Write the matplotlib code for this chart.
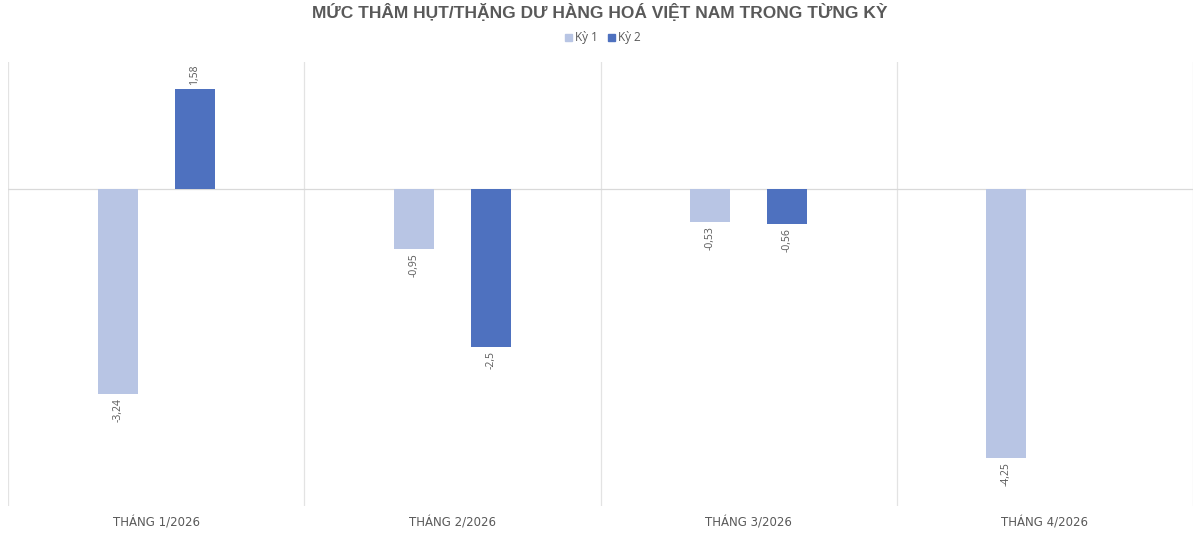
import matplotlib
matplotlib.use("Agg")
import matplotlib.pyplot as plt
import numpy as np
from matplotlib.patches import Patch

categories = ["THÁNG 1/2026", "THÁNG 2/2026", "THÁNG 3/2026", "THÁNG 4/2026"]
ky1 = [-3.24, -0.95, -0.53, -4.25]
ky2 = [1.58, -2.5, -0.56, np.nan]
series_names = ["Kỳ 1", "Kỳ 2"]
title = "MỨC THÂM HỤT/THẶNG DƯ HÀNG HOÁ VIỆT NAM TRONG TỪNG KỲ"

c1 = "#B8C5E4"
c2 = "#4E71BF"
gray = "#595959"

fig = plt.figure(figsize=(12, 5.35), dpi=100)
ax = fig.add_axes([8/1200, 1-506/535, (1193-8)/1200, (506-62)/535])

x = np.arange(len(categories))
w = 0.135
off = 0.13

def fmt(v):
    s = f"{v:g}"
    return s.replace(".", ",")

for vals, dx, col in [(ky1, -off, c1), (ky2, off, c2)]:
    for xi, v in zip(x, vals):
        if np.isnan(v):
            continue
        ax.bar(xi + dx, v, width=w, color=col, zorder=3)
        if v >= 0:
            ax.text(xi + dx, v + 0.06, fmt(v), rotation=90, ha="center", va="bottom",
                    fontsize=7.5, color=gray, family="Open Sans")
        else:
            ax.text(xi + dx, v - 0.06, fmt(v), rotation=90, ha="center", va="top",
                    fontsize=7.5, color=gray, family="Open Sans")

ax.set_xlim(-0.5, len(categories) - 0.5)
ax.set_ylim(-5, 2)
for b in np.arange(-0.5, len(categories), 1.0):
    ax.axvline(b, color="#E3E3E3", lw=0.9, zorder=1)
ax.axhline(0, color="#D9D9D9", lw=0.9, zorder=2)
for s in ax.spines.values():
    s.set_visible(False)
ax.set_yticks([])
ax.set_xticks([])
for xi, c in zip(x, categories):
    ax.text(xi, -5.16, c, ha="center", va="top", fontsize=8.5, color=gray,
            family="DejaVu Sans")

fig.text(0.5, 1 - 12/535, title, ha="center", va="center", fontsize=12.5,
         fontweight="bold", color=gray, family="Liberation Sans")

handles = [Patch(color=c1, label=series_names[0]), Patch(color=c2, label=series_names[1])]
fig.legend(handles=handles, loc="center", bbox_to_anchor=(0.5 + 3/1200, 1 - 38/535), ncol=2,
           frameon=False, handlelength=0.6, handleheight=0.6,
           handletextpad=0.3, columnspacing=0.8, labelcolor=gray,
           prop={"family": "Open Sans", "size": 8.5})

fig.savefig("out.png", dpi=100)
